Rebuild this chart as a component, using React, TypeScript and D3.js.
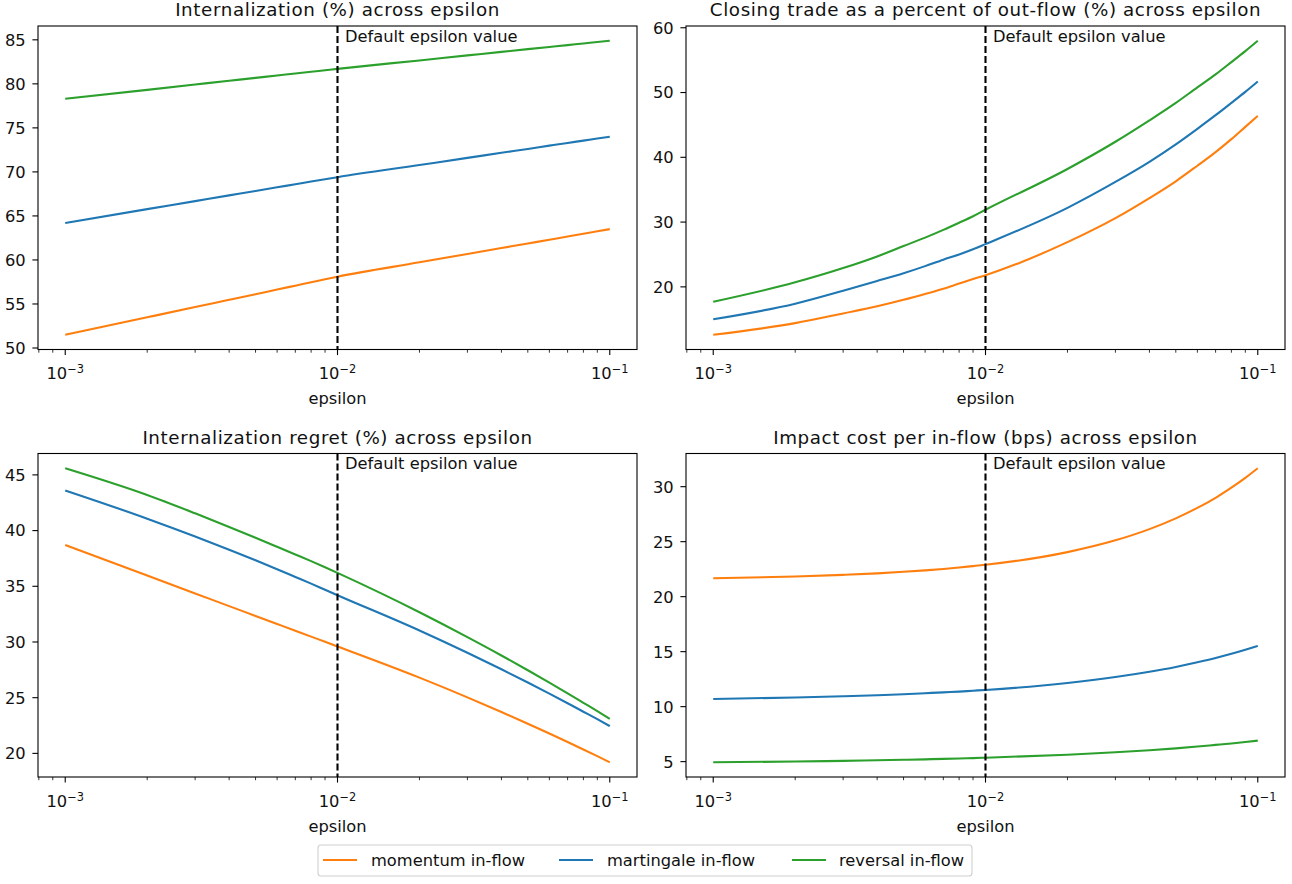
import * as d3 from 'd3';

// sampled epsilon values
const epsilon = [
  0.001, 0.002, 0.003, 0.004, 0.005, 0.006, 0.007, 0.008, 0.009,
  0.01, 0.02, 0.03, 0.04, 0.05, 0.06, 0.07, 0.08, 0.09, 0.1,
];

const internMomentum = [51.5, 53.49, 54.65, 55.47, 56.11, 56.64, 57.08, 57.46, 57.8, 58.1, 59.73, 60.68, 61.35, 61.87, 62.3, 62.66, 62.98, 63.25, 63.5];
const internMartingale = [64.2, 65.77, 66.68, 67.33, 67.83, 68.25, 68.59, 68.9, 69.16, 69.4, 70.78, 71.59, 72.17, 72.61, 72.98, 73.29, 73.55, 73.79, 74.0];
const internReversal = [78.3, 79.32, 79.92, 80.35, 80.68, 80.95, 81.17, 81.37, 81.54, 81.7, 82.66, 83.23, 83.63, 83.94, 84.19, 84.4, 84.59, 84.75, 84.9];

const closingMomentum = [12.6, 14.4, 15.9, 17.0, 18.0, 18.9, 19.7, 20.5, 21.2, 21.8, 26.9, 30.6, 33.7, 36.3, 38.7, 40.8, 42.8, 44.7, 46.4];
const closingMartingale = [15.0, 17.4, 19.4, 20.9, 22.1, 23.2, 24.2, 25.0, 25.8, 26.6, 32.2, 36.2, 39.3, 42.0, 44.4, 46.5, 48.4, 50.1, 51.7];
const closingReversal = [17.7, 20.7, 22.9, 24.7, 26.3, 27.6, 28.8, 29.9, 30.9, 31.9, 38.2, 42.4, 45.7, 48.4, 50.8, 52.8, 54.7, 56.4, 58.0];

const regretMomentum = [38.7, 35.96, 34.36, 33.22, 32.34, 31.62, 31.01, 30.48, 30.02, 29.6, 26.8, 25.03, 23.71, 22.66, 21.78, 21.02, 20.35, 19.75, 19.2];
const regretMartingale = [43.6, 41.07, 39.47, 38.28, 37.33, 36.53, 35.84, 35.24, 34.69, 34.2, 31.03, 29.03, 27.55, 26.36, 25.36, 24.5, 23.74, 23.07, 22.45];
const regretReversal = [45.6, 43.2, 41.55, 40.33, 39.36, 38.55, 37.86, 37.26, 36.71, 36.2, 32.67, 30.44, 28.79, 27.46, 26.35, 25.39, 24.54, 23.79, 23.1];

const impactMomentum = [21.67, 21.83, 21.98, 22.12, 22.26, 22.39, 22.52, 22.65, 22.78, 22.9, 24.05, 25.12, 26.14, 27.12, 28.07, 28.99, 29.91, 30.8, 31.68];
const impactMartingale = [10.7, 10.83, 10.94, 11.04, 11.13, 11.22, 11.3, 11.37, 11.45, 11.52, 12.15, 12.69, 13.17, 13.61, 14.03, 14.42, 14.8, 15.17, 15.52];
const impactReversal = [4.94, 5.01, 5.07, 5.12, 5.17, 5.21, 5.25, 5.29, 5.32, 5.36, 5.63, 5.85, 6.04, 6.21, 6.37, 6.52, 6.65, 6.78, 6.91];

const seriesNames = ['momentum in-flow', 'martingale in-flow', 'reversal in-flow'];
const seriesColors = ['#ff7f0e', '#1f77b4', '#2ca02c'];

const titles = [
  'Internalization (%) across epsilon',
  'Closing trade as a percent of out-flow (%) across epsilon',
  'Internalization regret (%) across epsilon',
  'Impact cost per in-flow (bps) across epsilon',
];
const yTickSets = [
  [50, 55, 60, 65, 70, 75, 80, 85],
  [20, 30, 40, 50, 60],
  [20, 25, 30, 35, 40, 45],
  [5, 10, 15, 20, 25, 30],
];
const panelData = [
  [internMomentum, internMartingale, internReversal],
  [closingMomentum, closingMartingale, closingReversal],
  [regretMomentum, regretMartingale, regretReversal],
  [impactMomentum, impactMartingale, impactReversal],
];
const majorTicks = [0.001, 0.01, 0.1];
const majorExps = ['−3', '−2', '−1'];
const defaultEpsilon = 0.01;

const FONT = 'DejaVu Sans, sans-serif';
const FS = 16.3;
const AX_W = 599;
const AX_H = 323.5;
const LEFTS = [38, 686];
const TOPS = [26, 453.5];

function Panel({ idx }) {
  const left = LEFTS[idx % 2];
  const top = TOPS[Math.floor(idx / 2)];
  const x = d3.scaleLog().domain([10 ** -3.1, 10 ** -0.9]).range([left, left + AX_W]);
  const all = panelData[idx].flat();
  const [lo, hi] = d3.extent(all);
  const pad = (hi - lo) * 0.05;
  const y = d3.scaleLinear().domain([lo - pad, hi + pad]).range([top + AX_H, top]);
  const line = d3.line<number>()
    .x((_, i) => x(epsilon[i]))
    .y(d => y(d))
    .curve(d3.curveMonotoneX);
  const bottom = top + AX_H;

  // minor log ticks inside the domain
  const minor: number[] = [];
  [-4, -3, -2, -1].forEach(e => {
    for (let k = 2; k <= 9; k++) {
      const v = k * 10 ** e;
      const [d0, d1] = x.domain();
      if (v > d0 && v < d1) minor.push(v);
    }
  });

  return (
    <g>
      <text x={left + AX_W / 2} y={top - 9.6} textAnchor="middle" fontSize={18.3} letterSpacing={0.6}
        fontFamily={FONT} fill="#111">
        {titles[idx]}
      </text>
      <clipPath id={`clip${idx}`}>
        <rect x={left} y={top} width={AX_W} height={AX_H} />
      </clipPath>
      <g clipPath={`url(#clip${idx})`}>
        {panelData[idx].map((vals, s) => (
          <path key={s} d={line(vals)} fill="none" stroke={seriesColors[s]} strokeWidth={2.1} />
        ))}
      </g>
      <line x1={x(defaultEpsilon)} x2={x(defaultEpsilon)} y1={top} y2={bottom}
        stroke="#000" strokeWidth={2.1} strokeDasharray="7,3" />
      <text x={x(defaultEpsilon) + 7.5} y={top + 15.7} fontSize={FS} fontFamily={FONT} fill="#111">Default epsilon value</text>
      <rect x={left} y={top} width={AX_W} height={AX_H} fill="none" stroke="#000" strokeWidth={1.1} />
      {yTickSets[idx].map(t => (
        <g key={t}>
          <line x1={left - 5.6} x2={left} y1={y(t)} y2={y(t)} stroke="#000" strokeWidth={1.1} />
          <text x={left - 12.3} y={y(t)} dy="0.36em" textAnchor="end" fontSize={FS} fontFamily={FONT} fill="#111">{t}</text>
        </g>
      ))}
      {minor.map(t => (
        <line key={t} x1={x(t)} x2={x(t)} y1={bottom} y2={bottom + 3.2} stroke="#000" strokeWidth={0.8} />
      ))}
      {majorTicks.map((t, i) => (
        <g key={t}>
          <line x1={x(t)} x2={x(t)} y1={bottom} y2={bottom + 5.6} stroke="#000" strokeWidth={1.1} />
          <text x={x(t)} y={bottom + 29.5} textAnchor="middle" fontSize={FS} fontFamily={FONT} fill="#111">
            10<tspan fontSize={11.4} dy={-6}>{majorExps[i]}</tspan>
          </text>
        </g>
      ))}
      <text x={left + AX_W / 2} y={bottom + 54.5} textAnchor="middle" fontSize={FS} fontFamily={FONT} fill="#111">epsilon</text>
    </g>
  );
}

function Legend() {
  const lineX = [323, 559, 792];
  const textX = [371, 607, 839];
  const cy = 860;
  return (
    <g>
      <rect x={318} y={845} width={654} height={31} rx={3} fill="#fff" stroke="#d0d0d0" strokeWidth={1.1} />
      {seriesNames.map((n, i) => (
        <g key={n}>
          <line x1={lineX[i]} x2={lineX[i] + 34} y1={cy} y2={cy} stroke={seriesColors[i]} strokeWidth={2.1} />
          <text x={textX[i]} y={cy} dy="0.36em" fontSize={FS} fontFamily={FONT} fill="#111">{n}</text>
        </g>
      ))}
    </g>
  );
}

export default function App() {
  return (
    <svg width={1292} height={884} style={{ position: 'absolute', left: 0, top: 0, background: '#fff' }}>
      {[0, 1, 2, 3].map(i => <Panel key={i} idx={i} />)}
      <Legend />
    </svg>
  );
}
